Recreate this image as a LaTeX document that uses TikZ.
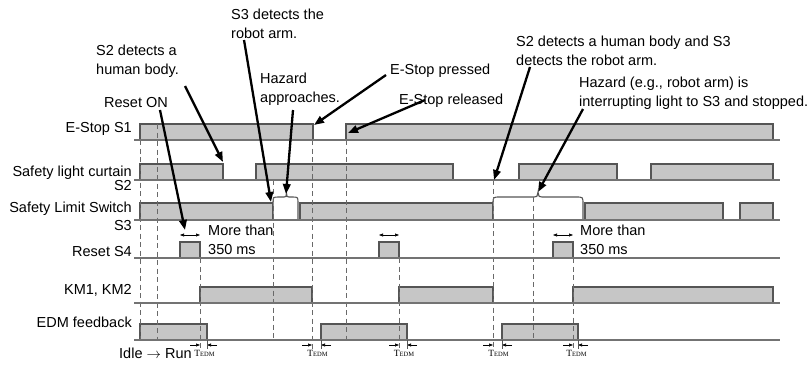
\documentclass[tikz,border=0pt]{standalone}
\usepackage{fontspec}
\setmainfont{Liberation Sans}
\newfontfamily\tfont{Liberation Serif}
\usetikzlibrary{arrows.meta}
\definecolor{sig}{RGB}{198,198,198}
\definecolor{edgec}{RGB}{85,85,85}
\definecolor{linec}{RGB}{115,115,115}
\definecolor{dashc}{RGB}{105,105,105}
\newcommand{\sigrect}[4]{\filldraw[sigbox] (#1,#4) -- (#1,#3) -- (#2,#3) -- (#2,#4);}
\newcommand{\tedmmark}[3]{%
  \draw[tarrow] (#1-10,345) -- (#1,345);
  \draw[tarrow] (#2+10,345) -- (#2,345);
  \draw[edgec, line width=0.8pt] (#2,340) -- (#2,349);
  \node[tlbl] (#3) at ({(#1+#2)/2+1},353) {\fontsize{9.5}{10}\selectfont T\fontsize{6.5}{7}\selectfont EDM};}
\begin{document}
\begin{tikzpicture}[x=1pt,y=-1pt,
  lbl/.style={font=\fontsize{14.5}{18.5}\selectfont, inner sep=0pt},
  tlbl/.style={font=\tfont, inner sep=0pt},
  sigbox/.style={fill=sig, draw=edgec, line width=1.1pt},
  sigline/.style={draw=linec, line width=1.3pt},
  vdash/.style={draw=dashc, line width=1pt, dash pattern=on 5pt off 3.5pt},
  callout/.style={draw=black, line width=2.3pt, -{Triangle[length=10pt,width=7.5pt,fill=black]}},
  tarrow/.style={line width=0.6pt, -{Triangle[length=4pt,width=3pt]}},
  brace/.style={fill=white, draw=edgec, line width=1.1pt},
  ]
\useasboundingbox (0,0) rectangle (810,365);

% ---- signal rows: boxes
% E-Stop S1 (top 124, base 140)
\sigrect{140}{313}{124}{140}
\sigrect{346}{773}{124}{140}
% Safety light curtain (164,180)
\sigrect{140}{223}{164}{180}
\sigrect{256}{453}{164}{180}
\sigrect{519}{617}{164}{180}
\sigrect{651}{773}{164}{180}
% Safety limit switch (203,220)
\sigrect{140}{273}{203}{220}
\sigrect{300}{493}{203}{220}
\sigrect{585}{723}{203}{220}
\sigrect{740}{773}{203}{220}
\filldraw[brace] (273,220) -- (273,203) .. controls (273,197) .. (279,197) -- (284,197)
  .. controls (286,197) .. (286.5,193) .. controls (287,197) .. (289,197) -- (292,197)
  .. controls (298,197) .. (298,203) -- (298,220);
\filldraw[brace] (493,220) -- (493,204) .. controls (493,197) .. (500,197) -- (534,197)
  .. controls (537,197) .. (538,192) .. controls (539,197) .. (542,197) -- (576,197)
  .. controls (583,197) .. (583,204) -- (583,220);
% Reset S4 (242,258)
\sigrect{180}{200}{242}{258}
\sigrect{379}{399}{242}{258}
\sigrect{553}{573}{242}{258}
% KM1, KM2 (287,303)
\sigrect{200}{312}{287}{303}
\sigrect{399}{493}{287}{303}
\sigrect{573}{773}{287}{303}
% EDM feedback (324,340)
\sigrect{140}{207}{324}{340}
\sigrect{321}{407}{324}{340}
\sigrect{502}{578}{324}{340}

% ---- dashed time markers
\draw[vdash] (140,140) -- (140,340);
\draw[vdash] (157,124) -- (157,340);
\draw[vdash] (200,258) -- (200,349);
\draw[vdash] (273,180) -- (273,340);
\draw[vdash] (312,140) -- (312,349);
\draw[vdash] (346,140) -- (346,340);
\draw[vdash] (399,258) -- (399,349);
\draw[vdash] (493,180) -- (493,349);
\draw[vdash] (533,197) -- (533,340);
\draw[vdash] (573,258) -- (573,349);

% ---- baselines
\foreach \yb in {140,180,220,258,303,340}
  \draw[sigline] (134,\yb) -- (780,\yb);

% ---- row labels
\node[lbl, anchor=base east] (lE) at (132,132) {E-Stop S1};
\node[lbl, anchor=base east] (lL) at (132,176) {Safety light curtain};
\node[lbl, anchor=base east] (lS2) at (132,190) {S2};
\node[lbl, anchor=base east] (lS) at (132,212) {Safety Limit Switch};
\node[lbl, anchor=base east] (lS3) at (132,230) {S3};
\node[lbl, anchor=base east] (lR) at (132,256) {Reset S4};
\node[lbl, anchor=base east] (lK) at (132,294) {KM1, KM2};
\node[lbl, anchor=base east] (lD) at (132,327) {EDM feedback};
\node[lbl, anchor=base west] (idle) at (119,358) {Idle $\rightarrow$ Run};

% ---- TEDM markers
\tedmmark{200}{207}{t1}
\tedmmark{312}{321}{t2}
\tedmmark{399}{407}{t3}
\tedmmark{493}{502}{t4}
\tedmmark{573}{578}{t5}

% ---- reset width markers
\draw[tarrow, {Triangle[length=4pt,width=3pt]}-{Triangle[length=4pt,width=3pt]}] (180,235) -- (200,235);
\draw[tarrow, {Triangle[length=4pt,width=3pt]}-{Triangle[length=4pt,width=3pt]}] (379,235) -- (399,235);
\draw[tarrow, {Triangle[length=4pt,width=3pt]}-{Triangle[length=4pt,width=3pt]}] (553,235) -- (573,235);
\node[lbl, anchor=base west, align=left] (m1) at (208,254) {More than\\350 ms};
\node[lbl, anchor=base west, align=left] (m3) at (580,254) {More than\\350 ms};

% ---- annotations (base = baseline of last line)
\node[lbl, anchor=base west, align=left] (a1) at (231,38) {S3 detects the\\robot arm.};
\node[lbl, anchor=base west, align=left] (a2) at (96,74) {S2 detects a\\human body.};
\node[lbl, anchor=base west, align=left] (a3) at (260,102) {Hazard\\approaches.};
\node[lbl, anchor=base west] (a4) at (104,107) {Reset ON};
\node[lbl, anchor=base west] (a5) at (390,74) {E-Stop pressed};
\node[lbl, anchor=base west] (a6) at (399,104) {E-Stop released};
\node[lbl, anchor=base west, align=left] (a7) at (516,65) {S2 detects a human body and S3\\detects the robot arm.};
\node[lbl, anchor=base west, align=left] (a8) at (579,106) {Hazard (e.g., robot arm) is\\interrupting light to S3 and stopped.};

% ---- callout arrows
\coordinate (c1s) at (160,110); \coordinate (c1e) at (185,230);
\coordinate (c2s) at (185,86);  \coordinate (c2e) at (223,162);
\coordinate (c3s) at (244,40);  \coordinate (c3e) at (271,202);
\coordinate (c4s) at (293,110); \coordinate (c4e) at (286,194);
\coordinate (c5s) at (386,75);  \coordinate (c5e) at (314,125);
\coordinate (c6s) at (425,100); \coordinate (c6e) at (348,133);
\coordinate (c7s) at (530,67);  \coordinate (c7e) at (494,180);
\coordinate (c8s) at (583,109); \coordinate (c8e) at (538,192);
\foreach \i in {1,...,8} \draw[callout] (c\i s) -- (c\i e);
\end{tikzpicture}
\end{document}
